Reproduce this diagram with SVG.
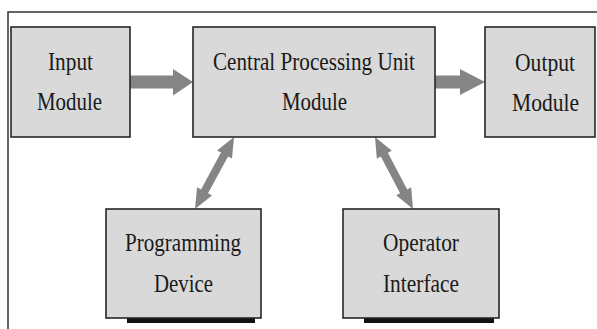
<svg xmlns="http://www.w3.org/2000/svg" width="597" height="329" viewBox="0 0 597 329">
<style>
.box{fill:#d9d9d9;stroke:#262626;stroke-width:1.6}
.shadow{fill:#111}
.arrow{fill:#858585;stroke:none}
.frame{fill:none;stroke:#333;stroke-width:1.5}
text{font-family:"Liberation Serif","Times New Roman",serif;font-size:25.5px;fill:#1a1a1a;text-anchor:middle}
</style>
<rect width="597" height="329" fill="#fff"/>
<path class="frame" d="M8,329 V12 H597"/>
<g id="connectors">
<polygon class="arrow" points="130,75.5 173,75.5 173,69 193,82 173,95.5 173,88.5 130,88.5"/>
<polygon class="arrow" points="435,75.5 460,75.5 460,69 485,82 460,95 460,88.5 435,88.5"/>
<polygon class="arrow" transform="translate(195,209) rotate(-61.56)" points="0,0 20,-8.5 20,-4 62,-4 62,-8.5 82,0 62,8.5 62,4 20,4 20,8.5"/>
<polygon class="arrow" transform="translate(375,137) rotate(62.18)" points="0,0 20,-8.5 20,-4 61.4,-4 61.4,-8.5 81.4,0 61.4,8.5 61.4,4 20,4 20,8.5"/>
</g>
<g id="input">
<rect class="box" x="11" y="27" width="119" height="110"/>
<text x="70.5" y="70" textLength="45" lengthAdjust="spacingAndGlyphs">Input</text>
<text x="69.5" y="110" textLength="65" lengthAdjust="spacingAndGlyphs">Module</text>
</g>
<g id="cpu">
<rect class="box" x="193" y="27" width="242" height="110"/>
<text x="314" y="70" textLength="202" lengthAdjust="spacingAndGlyphs">Central Processing Unit</text>
<text x="314.5" y="110" textLength="65" lengthAdjust="spacingAndGlyphs">Module</text>
</g>
<g id="output">
<rect class="box" x="485" y="27" width="110" height="110"/>
<text x="545" y="71" textLength="60" lengthAdjust="spacingAndGlyphs">Output</text>
<text x="545.5" y="111" textLength="67" lengthAdjust="spacingAndGlyphs">Module</text>
</g>
<g id="programming">
<rect class="shadow" x="127" y="318" width="128" height="5"/>
<rect class="box" x="106" y="209" width="155" height="109"/>
<text x="183" y="251" textLength="116" lengthAdjust="spacingAndGlyphs">Programming</text>
<text x="183.5" y="292" textLength="59" lengthAdjust="spacingAndGlyphs">Device</text>
</g>
<g id="operator">
<rect class="shadow" x="364" y="318" width="130" height="5"/>
<rect class="box" x="343" y="209" width="156" height="109"/>
<text x="421" y="251" textLength="76" lengthAdjust="spacingAndGlyphs">Operator</text>
<text x="421" y="292" textLength="76" lengthAdjust="spacingAndGlyphs">Interface</text>
</g>
</svg>
